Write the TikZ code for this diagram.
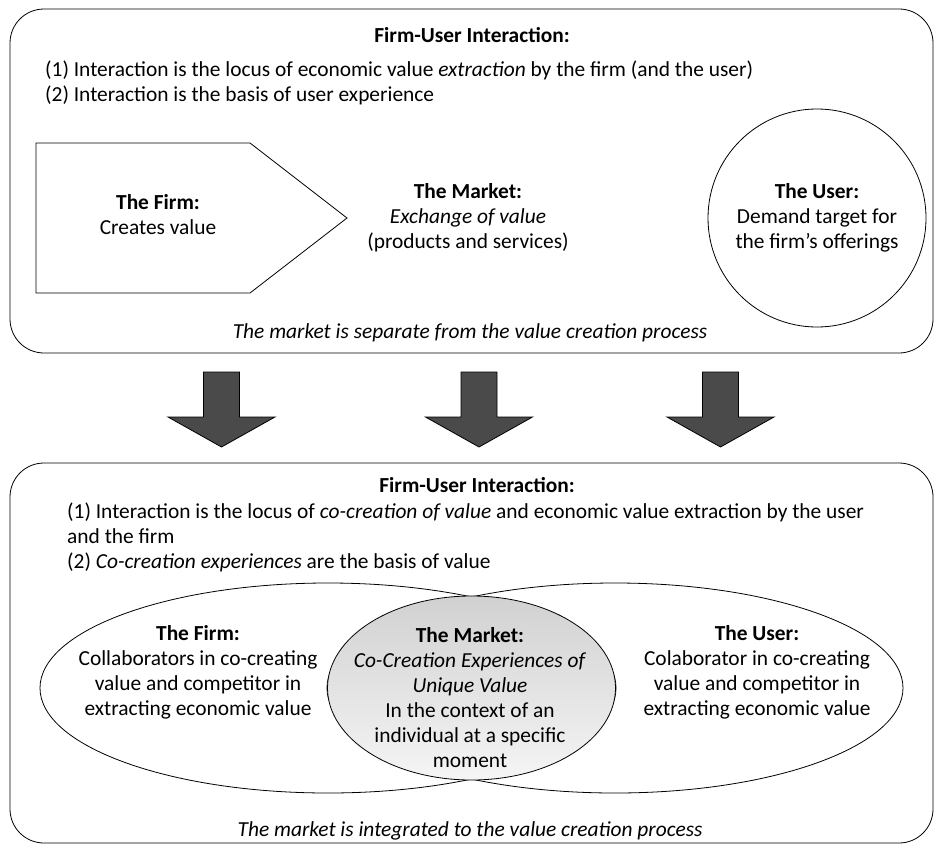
\documentclass[tikz,border=0pt]{standalone}
\usepackage{fontspec}
\setmainfont{Carlito}
\usetikzlibrary{shapes.geometric}
\begin{document}
\begin{tikzpicture}[x=1pt,y=-1pt,
        panel/.style={draw,line width=0.8pt,rounded corners=34pt},
        txt/.style={inner sep=0pt,align=center,font=\fontsize{21.4}{25}\selectfont},
        lens/.style={draw,line width=0.8pt,ellipse,inner sep=0pt,minimum width=576pt,minimum height=210pt},
        bigarrow/.style={draw,line width=0.8pt,fill=black!71}]
    \useasboundingbox (0,0) rectangle (936,843);
    \draw[panel] (10,9) rectangle (933,353);
    \draw[panel] (10,463) rectangle (933,843);

    \node[txt] (title1) at (472,35) {\textbf{Firm-User Interaction:}};
    \node[txt,align=left,anchor=west] (points1) at (45,82.5) {(1) Interaction is the locus of economic value \textit{extraction} by the firm (and the user)\\(2) Interaction is the basis of user experience};
    \draw[line width=0.8pt] (36,143) -- (250,143) -- (347,218) -- (250,293) -- (36,293) -- cycle;
    \node[txt] (firm1) at (158,215) {\textbf{The Firm:}\\Creates value};
    \node[txt] (market1) at (468,218) {\textbf{The Market:}\\\textit{Exchange of value}\\(products and services)};
    \node[txt,draw,circle,line width=0.8pt,minimum size=218pt] (user1) at (817,218) {\textbf{The User:}\\Demand target for\\the firm’s offerings};
    \node[txt] (caption1) at (470,333) {\textit{The market is separate from the value creation process}};

    \foreach \x in {221.5,479,720.5}
        \draw[bigarrow] (\x-18,372) -- (\x+18,372) -- (\x+18,417) -- (\x+53.5,417) -- (\x,447) -- (\x-53.5,417) -- (\x-18,417) -- cycle;

    \node[txt] (title2) at (477,485) {\textbf{Firm-User Interaction:}};
    \node[txt,align=left,anchor=west] (points2) at (67,537) {(1) Interaction is the locus of \textit{co-creation of value} and economic value extraction by the user\\and the firm\\(2) \textit{Co-creation experiences} are the basis of value};
    \node[lens] (firmlens) at (328,688) {};
    \node[lens] (userlens) at (615,688) {};
    \node[ellipse,draw,line width=0.8pt,top color=black!18,bottom color=black!4,inner sep=0pt,minimum width=288pt,minimum height=184pt] (marketlens) at (471.5,688) {};
    \node[txt] (firm2) at (198,672) {\textbf{The Firm:}\\Collaborators in co-creating\\value and competitor in\\extracting economic value};
    \node[txt] (market2) at (470,698) {\textbf{The Market:}\\\textit{Co-Creation Experiences of}\\\textit{Unique Value}\\In the context of an\\individual at a specific\\moment};
    \node[txt] (user2) at (757,672) {\textbf{The User:}\\Colaborator in co-creating\\value and competitor in\\extracting economic value};
    \node[txt] (caption2) at (470,831) {\textit{The market is integrated to the value creation process}};
\end{tikzpicture}
\end{document}
